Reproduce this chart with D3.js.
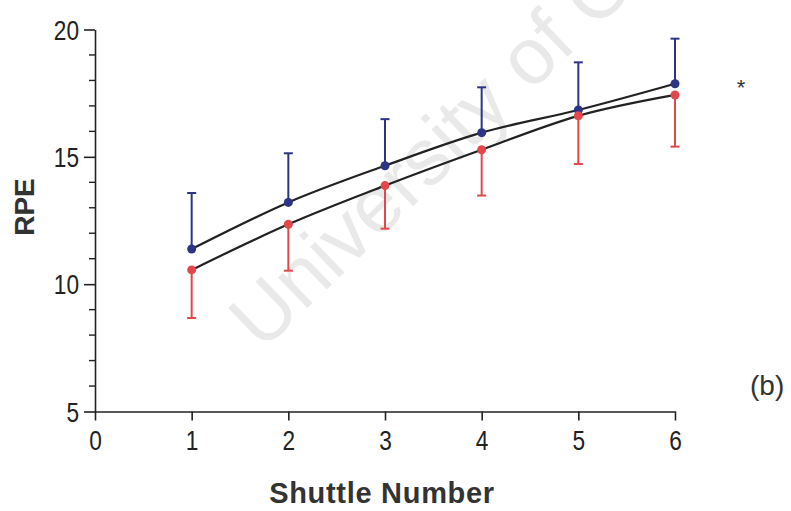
<!DOCTYPE html>
<html>
<head>
<meta charset="utf-8">
<script src="https://cdn.jsdelivr.net/npm/d3@7"></script>
<style>
  html, body { margin: 0; padding: 0; background: #fff; }
  svg { display: block; }
</style>
</head>
<body>
<svg id="chart" width="791" height="511"></svg>
<script>
// Shuttle number on the x axis, RPE on the y axis
const shuttles = [1, 2, 3, 4, 5, 6];
const xTicks = [0, 1, 2, 3, 4, 5, 6];
const yMajorTicks = [5, 10, 15, 20];
const yMinorTicks = [6, 7, 8, 9, 11, 12, 13, 14, 16, 17, 18, 19];

// Blue series: means with SD bars drawn upward
const blueMean = [11.38, 13.21, 14.65, 15.95, 16.84, 17.87];
const blueSD   = [2.20, 1.93, 1.83, 1.78, 1.87, 1.77];

// Red series: means with SD bars drawn downward
const redMean = [10.56, 12.35, 13.87, 15.28, 16.61, 17.43];
const redSD   = [1.89, 1.82, 1.69, 1.80, 1.89, 2.03];

const blueColor = "#2c3486";
const redColor = "#e2474a";
const inkColor = "#222";
const sans = "'Liberation Sans', Arial, sans-serif";
const narrowScale = 0.84; // condensed look for tick numerals

const svg = d3.select("#chart");

// Faint background watermark
svg.append("text")
  .attr("transform", "translate(262,352) rotate(-44)")
  .attr("font-family", sans)
  .attr("font-size", 80)
  .attr("fill", "#e9e9e9")
  .text("University of Cape Town");

const x = d3.scaleLinear().domain([0, 6]).range([95, 675]);
const y = d3.scaleLinear().domain([5, 20]).range([411.5, 29.5]);

// Y axis: major ticks with labels, minor ticks without
const yAxis = svg.append("g").attr("transform", `translate(${x(0)},0)`);
yAxis.call(d3.axisLeft(y).tickValues(yMajorTicks).tickSize(11).tickPadding(5).tickSizeOuter(0));
yAxis.selectAll(".tick text")
  .attr("font-family", sans).attr("font-size", 27).attr("fill", inkColor).attr("dy", "0.36em")
  .attr("x", -16 / narrowScale)
  .attr("transform", `scale(${narrowScale},1)`);
yAxis.selectAll("line, path").attr("stroke", inkColor).attr("stroke-width", 1.6);
yAxis.append("g").selectAll("line").data(yMinorTicks).join("line")
  .attr("x1", -6).attr("x2", 0)
  .attr("y1", d => y(d)).attr("y2", d => y(d))
  .attr("stroke", inkColor).attr("stroke-width", 1.4);

// X axis
const xAxis = svg.append("g").attr("transform", `translate(0,${y(5)})`);
xAxis.call(d3.axisBottom(x).tickValues(xTicks).tickFormat(d3.format("d")).tickSize(9).tickPadding(10).tickSizeOuter(0));
xAxis.selectAll(".tick text")
  .attr("font-family", sans).attr("font-size", 27).attr("fill", inkColor).attr("dy", "0.71em")
  .attr("transform", `scale(${narrowScale},1)`);
xAxis.selectAll("line, path").attr("stroke", inkColor).attr("stroke-width", 1.6);

// Axis titles
svg.append("text")
  .attr("x", 382).attr("y", 503)
  .attr("text-anchor", "middle")
  .attr("font-family", sans).attr("font-weight", "bold").attr("font-size", 29)
  .attr("letter-spacing", 0.7)
  .attr("fill", "#333")
  .text("Shuttle Number");

svg.append("text")
  .attr("transform", "translate(34,207) rotate(-90)")
  .attr("text-anchor", "middle")
  .attr("font-family", sans).attr("font-weight", "bold").attr("font-size", 28)
  .attr("fill", "#333")
  .text("RPE");

// Panel annotations
svg.append("text")
  .attr("x", 741).attr("y", 95)
  .attr("text-anchor", "middle")
  .attr("font-family", sans).attr("font-size", 22).attr("fill", "#333")
  .text("*");

svg.append("text")
  .attr("x", 750).attr("y", 395)
  .attr("font-family", sans).attr("font-size", 28).attr("fill", "#333")
  .text("(b)");

// Series drawing
const series = [
  { mean: blueMean, sd: blueSD, color: blueColor, dir: 1 },
  { mean: redMean, sd: redSD, color: redColor, dir: -1 }
];

const line = d3.line()
  .x((d, i) => x(shuttles[i]))
  .y(d => y(d))
  .curve(d3.curveMonotoneX);

series.forEach(s => {
  const g = svg.append("g");
  const capHalf = 4.5;
  const bars = g.selectAll("g.bar").data(s.mean).join("g").attr("class", "bar");
  bars.append("line")
    .attr("x1", (d, i) => x(shuttles[i])).attr("x2", (d, i) => x(shuttles[i]))
    .attr("y1", d => y(d))
    .attr("y2", (d, i) => y(d + s.dir * s.sd[i]))
    .attr("stroke", s.color).attr("stroke-width", 2);
  bars.append("line")
    .attr("x1", (d, i) => x(shuttles[i]) - capHalf).attr("x2", (d, i) => x(shuttles[i]) + capHalf)
    .attr("y1", (d, i) => y(d + s.dir * s.sd[i]))
    .attr("y2", (d, i) => y(d + s.dir * s.sd[i]))
    .attr("stroke", s.color).attr("stroke-width", 2);
});

series.forEach(s => {
  svg.append("path")
    .datum(s.mean)
    .attr("d", line)
    .attr("fill", "none")
    .attr("stroke", inkColor)
    .attr("stroke-width", 2.2);
});

series.forEach(s => {
  svg.append("g").selectAll("circle").data(s.mean).join("circle")
    .attr("cx", (d, i) => x(shuttles[i]))
    .attr("cy", d => y(d))
    .attr("r", 4.5)
    .attr("fill", s.color);
});
</script>
</body>
</html>
